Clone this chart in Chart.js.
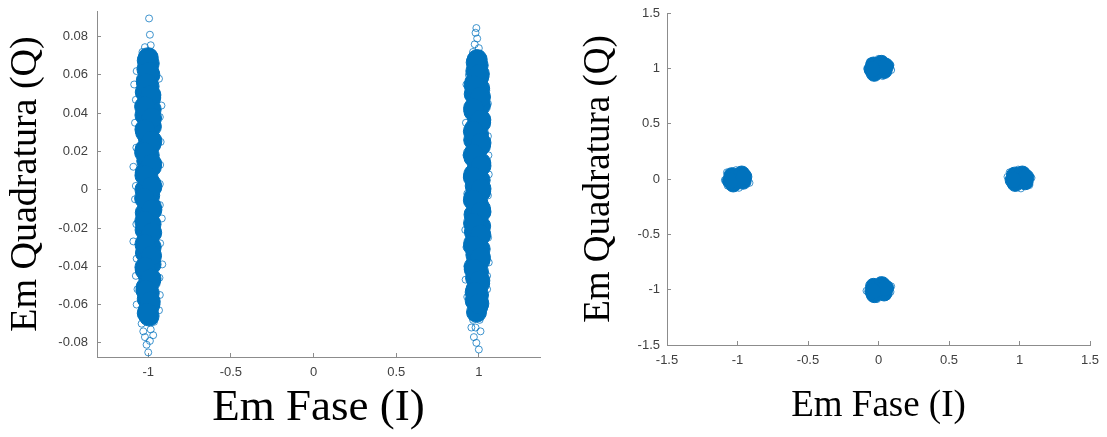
<!DOCTYPE html>
<html>
<head>
<meta charset="utf-8">
<script src="https://cdn.jsdelivr.net/npm/chart.js@4.4.0/dist/chart.umd.min.js"></script>
<style>
  body { margin: 0; background: #fff; width: 1107px; height: 437px; position: relative; overflow: hidden; }
  .box { position: absolute; top: 0; height: 437px; }
  #bpsk { left: 0; width: 560px; }
  #qpsk { left: 560px; width: 547px; }
</style>
</head>
<body>
<div class="box" id="bpsk"><canvas></canvas></div>
<div class="box" id="qpsk"><canvas></canvas></div>
<script>
// tick labels
const bpskITicks = [-1, -0.5, 0, 0.5, 1];
const bpskQTicks = [-0.08, -0.06, -0.04, -0.02, 0, 0.02, 0.04, 0.06, 0.08];
const qpskTicks = [-1.5, -1, -0.5, 0, 0.5, 1, 1.5];

// BPSK symbols, [I, Q] (dense part and loose circles)
const bpskCoreNeg = [
    [-1.0, 0.069], [-0.994, 0.066], [-1.008, 0.063], [-0.99, 0.060], [-1.012, 0.057], [-0.995, 0.054],
    [-1.018, 0.051], [-0.985, 0.048], [-1.006, 0.045], [-0.982, 0.042], [-1.02, 0.039], [-0.997, 0.036],
    [-0.981, 0.033], [-1.016, 0.030], [-1.0, 0.027], [-0.983, 0.024], [-1.019, 0.021], [-0.994, 0.018],
    [-1.009, 0.015], [-0.981, 0.012], [-1.018, 0.009], [-1.0, 0.006], [-0.983, 0.003], [-1.02, 0.0],
    [-0.991, -0.003], [-1.006, -0.006], [-0.981, -0.009], [-1.018, -0.012], [-1.0, -0.015], [-0.983, -0.018],
    [-1.019, -0.021], [-0.994, -0.024], [-1.011, -0.027], [-0.982, -0.030], [-1.017, -0.033], [-0.997, -0.036],
    [-0.983, -0.039], [-1.018, -0.042], [-1.0, -0.045], [-0.987, -0.048], [-1.013, -0.051], [-0.994, -0.054],
    [-1.006, -0.057], [-0.99, -0.060], [-1.0, -0.063], [-0.995, -0.066],
    [-1.006, 0.0675], [-0.996, 0.0615], [-1.01, 0.0555], [-0.984, 0.0495], [-1.022, 0.0435], [-0.98, 0.0375],
    [-1.02, 0.0315], [-0.978, 0.0255], [-1.022, 0.0195], [-0.979, 0.0135], [-1.02, 0.0075], [-0.978, 0.0015],
    [-1.022, -0.0045], [-0.978, -0.0105], [-1.021, -0.0165], [-0.979, -0.0225], [-1.02, -0.0285], [-0.98, -0.0345],
    [-1.02, -0.0405], [-0.983, -0.0465], [-1.014, -0.0525], [-0.988, -0.0585], [-1.006, -0.0645]
];
const bpskEdgeNeg = [
    [-0.995, 0.0895], [-0.99, 0.081], [-1.02, 0.0745], [-1.035, 0.072], [-0.985, 0.0755], [-0.975, 0.071],
    [-1.04, 0.069], [-1.085, 0.055], [-0.92, 0.044], [-1.08, 0.035], [-0.925, 0.025], [-1.09, 0.012],
    [-0.93, 0.003], [-1.08, -0.005], [-0.918, -0.015], [-1.09, -0.027], [-0.915, -0.039], [-1.075, -0.045],
    [-0.93, -0.055], [-1.07, -0.06], [-0.935, -0.063], [-1.04, -0.07], [-0.965, -0.069], [-1.03, -0.074],
    [-0.985, -0.073], [-1.02, -0.077], [-0.97, -0.076], [-0.99, -0.079], [-1.01, -0.081], [-1.0, -0.085],
    [-1.07, 0.062], [-0.935, 0.058], [-1.075, 0.047], [-0.93, 0.038], [-1.072, 0.022], [-0.928, 0.013],
    [-1.075, 0.002], [-0.93, -0.008], [-1.072, -0.018], [-0.928, -0.028], [-1.07, -0.036], [-0.932, -0.046],
    [-1.065, -0.052]
];
const bpskCorePos = [
    [0.99, 0.068], [0.996, 0.065], [0.982, 0.062], [1.0, 0.059], [0.975, 0.056], [1.005, 0.053],
    [0.972, 0.050], [0.992, 0.047], [1.01, 0.044], [0.97, 0.041], [0.99, 0.038], [1.011, 0.035],
    [0.975, 0.032], [0.998, 0.029], [0.969, 0.026], [1.01, 0.023], [0.986, 0.020], [0.97, 0.017],
    [1.012, 0.014], [0.99, 0.011], [0.969, 0.008], [1.008, 0.005], [0.978, 0.002], [1.011, -0.001],
    [0.97, -0.004], [0.995, -0.007], [1.01, -0.010], [0.971, -0.013], [0.99, -0.016], [1.011, -0.019],
    [0.973, -0.022], [1.0, -0.025], [0.969, -0.028], [1.008, -0.031], [0.982, -0.034], [1.006, -0.037],
    [0.973, -0.040], [0.998, -0.043], [0.98, -0.046], [1.005, -0.049], [0.983, -0.052], [0.998, -0.055],
    [0.978, -0.058], [0.994, -0.061], [0.986, -0.064],
    [0.984, 0.0665], [1.003, 0.0605], [0.972, 0.0545], [1.01, 0.0485], [0.968, 0.0425], [1.012, 0.0365],
    [0.967, 0.0305], [1.013, 0.0245], [0.967, 0.0185], [1.013, 0.0125], [0.967, 0.0065], [1.013, 0.0005],
    [0.967, -0.0055], [1.013, -0.0115], [0.968, -0.0175], [1.012, -0.0235], [0.968, -0.0295], [1.01, -0.0355],
    [0.972, -0.0415], [1.006, -0.0475], [0.978, -0.0535], [1.0, -0.0595]
];
const bpskEdgePos = [
    [0.985, 0.0845], [0.98, 0.082], [0.99, 0.079], [0.975, 0.076], [1.0, 0.074], [0.965, 0.072],
    [1.01, 0.071], [0.97, 0.066], [0.94, 0.060], [1.045, 0.052], [0.935, 0.044], [1.055, 0.028],
    [0.925, 0.018], [1.06, 0.008], [0.93, -0.002], [1.05, -0.012], [0.918, -0.021], [1.06, -0.038],
    [0.92, -0.047], [1.05, -0.052], [0.93, -0.056], [0.96, -0.062], [1.02, -0.064], [0.965, -0.068],
    [1.005, -0.068], [0.955, -0.072], [0.98, -0.072], [1.01, -0.074], [0.97, -0.077], [0.985, -0.080],
    [1.0, -0.0835], [0.925, 0.055], [1.055, 0.045], [0.922, 0.035], [1.058, 0.018], [0.928, 0.007],
    [1.055, -0.003], [0.925, -0.03], [1.056, -0.025], [0.93, -0.04], [1.05, -0.045]
];

// QPSK symbols, [I, Q]
const qpskCore = [
    [-1.0, 0.0], [-1.04, 0.03], [-0.96, -0.02], [-1.03, -0.045], [-0.97, 0.045], [-1.05, -0.015], [-0.955, 0.02],
    [0.0, 1.0], [-0.035, 1.03], [0.04, 0.98], [0.02, 1.045], [-0.03, 0.955], [0.05, 1.02], [-0.045, 0.99],
    [0.005, -1.0], [-0.035, -0.97], [0.04, -1.03], [0.025, -0.955], [-0.03, -1.045], [0.05, -0.985], [-0.04, -1.015],
    [1.0, 0.0], [0.965, 0.035], [1.04, -0.025], [1.02, 0.045], [0.97, -0.04], [1.045, 0.015], [0.955, -0.01]
];
const qpskEdge = [
    [-1.09, -0.01], [-1.075, 0.06], [-0.915, -0.035], [-0.99, -0.08], [-1.01, 0.08], [-1.07, -0.06],
    [0.085, 1.03], [0.09, 0.985], [-0.08, 1.0], [0.0, 1.085], [0.03, 0.93], [-0.06, 1.06],
    [0.09, -0.97], [0.085, -1.02], [-0.085, -1.01], [0.01, -0.915], [-0.01, -1.085], [0.06, -1.06],
    [1.085, 0.01], [0.915, 0.02], [1.07, -0.055], [0.99, 0.085], [1.01, -0.085], [0.93, 0.06]
];

const BLUE = '#0072BD';
const pts = arr => arr.map(([x, y]) => ({ x, y }));

function coreSet(arr, r) {
    return { data: pts(arr), pointRadius: r, borderWidth: 1, borderColor: BLUE, backgroundColor: BLUE };
}
function edgeSet(arr) {
    return { data: pts(arr), pointRadius: 3.5, borderWidth: 1, borderColor: 'rgba(0,114,189,0.75)', backgroundColor: 'rgba(0,0,0,0)' };
}

function axis(opts) {
    return {
        type: 'linear',
        min: opts.min,
        max: opts.max,
        afterBuildTicks: s => { s.ticks = opts.ticks.map(v => ({ value: v })); },
        afterFit: s => {
            opts.fit(s);
            s.paddingTop = 0; s.paddingBottom = 0; s.paddingLeft = 0; s.paddingRight = 0;
        },
        border: { color: '#8c8c8c', width: 1 },
        grid: { drawOnChartArea: false, tickLength: -4, color: '#8c8c8c' },
        ticks: {
            autoSkip: false, maxRotation: 0, padding: opts.pad, color: '#404040',
            font: { family: 'Liberation Sans', size: 13 },
            callback: v => String(v)
        },
        title: {
            display: true, text: opts.title, color: '#000',
            font: { family: 'Liberation Serif', size: opts.titleSize, lineHeight: 1 },
            padding: opts.titlePad
        }
    };
}

function scatter(id, datasets, scales, padding) {
    const ctx = document.querySelector('#' + id + ' canvas');
    new Chart(ctx, {
        type: 'scatter',
        data: { datasets },
        options: {
            responsive: true,
            maintainAspectRatio: false,
            animation: false,
            events: [],
            layout: { padding },
            plugins: { legend: { display: false }, tooltip: { enabled: false } },
            scales
        }
    });
}

scatter('bpsk',
    [coreSet(bpskCoreNeg, 10), coreSet(bpskCorePos, 10), edgeSet(bpskEdgeNeg), edgeSet(bpskEdgePos)],
    {
        x: axis({ min: -1.31, max: 1.37, ticks: bpskITicks, fit: s => { s.height = 80; }, pad: 12,
            title: 'Em Fase (I)', titleSize: 45, titlePad: { top: 0, bottom: 6 } }),
        y: axis({ min: -0.0874, max: 0.0934, ticks: bpskQTicks, fit: s => { s.width = 97; }, pad: 13,
            title: 'Em Quadratura (Q)', titleSize: 38, titlePad: { top: 7, bottom: 0 } })
    },
    { top: 8, right: 20, left: 0, bottom: 0 });

scatter('qpsk',
    [coreSet(qpskCore, 8), edgeSet(qpskEdge)],
    {
        x: axis({ min: -1.5, max: 1.5, ticks: qpskTicks, fit: s => { s.height = 92; }, pad: 12,
            title: 'Em Fase (I)', titleSize: 37, titlePad: { top: 0, bottom: 12 } }),
        y: axis({ min: -1.5, max: 1.5, ticks: qpskTicks, fit: s => { s.width = 107; }, pad: 11,
            title: 'Em Quadratura (Q)', titleSize: 37, titlePad: { top: 21, bottom: 0 } })
    },
    { top: 13, right: 17, left: 0, bottom: 0 });
</script>
</body>
</html>
